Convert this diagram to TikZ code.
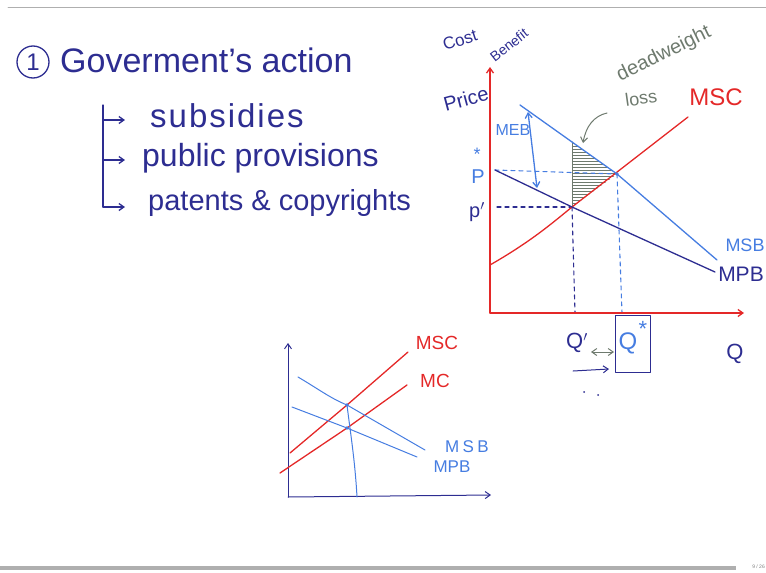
\documentclass[tikz,border=0pt]{standalone}
\usepackage{fontspec}
\setmainfont{Liberation Sans}
\usetikzlibrary{patterns,arrows.meta}
\definecolor{ink}{RGB}{45,45,145}
\definecolor{redink}{RGB}{228,40,40}
\definecolor{blueink}{RGB}{70,125,225}
\definecolor{grayink}{RGB}{110,122,110}
\definecolor{rule}{RGB}{175,175,175}
\begin{document}
\begin{tikzpicture}[x=1pt,y=-1pt,line cap=round,line join=round,
  hand/.style={line width=1.3pt},
  thin hand/.style={line width=1pt},
  tip/.style={-{Straight Barb[length=5pt,width=7pt]}},
  dtip/.style={{Straight Barb[length=5pt,width=7pt]}-{Straight Barb[length=5pt,width=7pt]}},
  lbl/.style={inner sep=0pt},
  dash line/.style={line width=1.1pt,dash pattern=on 4pt off 4pt}]
\useasboundingbox (0,0) rectangle (766,573);
% frame lines
\draw[rule,line width=0.8pt] (8,7) -- (766,7);
\fill[rule] (0,566) rectangle (736,570);
\node[lbl,anchor=east,text=gray,font=\fontsize{5}{5}\selectfont] (pg) at (765,567) {9 / 26};

% ---------- heading ----------
\node[circle,draw=ink,hand,inner sep=0pt,minimum size=32pt,text=ink,font=\fontsize{24}{24}\selectfont] (one) at (33,62) {1};
\node[lbl,anchor=west,text=ink,font=\fontsize{34}{34}\selectfont] (title) at (60,60) {Goverment's action};

% ---------- branch list ----------
\coordinate (b0) at (103,105);
\coordinate (b1) at (103,120);
\coordinate (b2) at (103,160);
\coordinate (b3) at (103,207);
\node[lbl,anchor=west,text=ink,font=\fontsize{33}{33}\selectfont\addfontfeatures{LetterSpace=6}] (sub) at (150,116) {subsidies};
\node[lbl,anchor=west,text=ink,font=\fontsize{32}{32}\selectfont] (pub) at (142,158) {public provisions};
\node[lbl,anchor=west,text=ink,font=\fontsize{29}{29}\selectfont] (pat) at (148,203) {patents \& copyrights};
\draw[ink,hand] (b0) -- (b3);
\draw[ink,hand,tip] (b1) -- ++(22,0);
\draw[ink,hand,tip] (b2) -- ++(22,0);
\draw[ink,hand,tip] (b3) -- ++(22,0);

% ---------- main graph ----------
\coordinate (O) at (490,313);
\coordinate (Ytop) at (490,67);
\coordinate (Xend) at (744,313);
\coordinate (Pp) at (572,207);   % p' equilibrium
\coordinate (E) at (617,174);    % social optimum
\coordinate (T) at (572,142);    % top of DWL triangle
% deadweight loss triangle
\fill[pattern=horizontal lines,pattern color=grayink] (Pp) -- (T) -- (E) -- cycle;
\draw[grayink,thin hand] (Pp) -- (T);
% dashed guides
\draw[blueink,dash line] (495,170) -- (E);
\draw[blueink,dash line] (E) -- (622,313);
\draw[ink,dash line] (497,207) -- (Pp);
\draw[ink,dash line] (Pp) -- (575,313);
% axes
\draw[redink,hand,tip] (O) -- (Ytop);
\draw[redink,hand,tip] (O) -- (Xend);
% curves
\draw[redink,hand] (490,265) .. controls (530,242) and (550,225) .. (Pp) -- (688,117);
\draw[blueink,hand] (520,105) -- (E) -- (717,260);
\draw[ink,hand] (495,170) -- (Pp) -- (715,272);
\fill[blueink] (E) circle (1.8);
% MEB arrow
\draw[blueink,hand,dtip] (528,112) -- (537,188);
% axis labels
\node[lbl,text=ink,rotate=18,font=\fontsize{17}{17}\selectfont] (cost) at (460,40) {Cost};
\node[lbl,text=ink,rotate=38,font=\fontsize{14}{14}\selectfont] (benefit) at (509,45) {Benefit};
\node[lbl,text=ink,rotate=15,font=\fontsize{20}{20}\selectfont] (price) at (466,99) {Price};
\node[lbl,text=blueink,font=\fontsize{16}{16}\selectfont] (meb) at (513,130) {MEB};
\node[lbl,text=blueink,font=\fontsize{20}{20}\selectfont] (pstar) at (478,177) {P};
\node[lbl,text=blueink,font=\fontsize{18}{18}\selectfont] (star) at (477,154) {*};
\node[lbl,text=ink,font=\fontsize{20}{20}\selectfont] (pprime) at (477,212) {p$'$};
\node[lbl,text=redink,font=\fontsize{24}{24}\selectfont] (msc) at (716,97) {MSC};
\node[lbl,text=blueink,font=\fontsize{18}{18}\selectfont] (msb) at (745,245) {MSB};
\node[lbl,text=ink,font=\fontsize{21}{21}\selectfont] (mpb) at (741,274) {MPB};
\node[lbl,text=ink,font=\fontsize{22}{22}\selectfont] (q) at (735,354) {Q};
% deadweight loss label
\node[lbl,text=grayink,rotate=26,font=\fontsize{20}{20}\selectfont] (dw) at (664,54) {deadweight};
\node[lbl,text=grayink,rotate=8,font=\fontsize{18}{18}\selectfont] (loss) at (641,98) {loss};
\draw[grayink,thin hand,tip] (607,113) .. controls (594,116) and (586,126) .. (583,143);
% Q labels
\node[lbl,text=ink,font=\fontsize{22}{22}\selectfont] (qp) at (577,343) {Q$'$};
\node[draw=ink,thin hand,minimum width=35pt,minimum height=57pt,inner sep=0pt] (qbox) at (633,344) {};
\node[lbl,text=blueink,font=\fontsize{24}{24}\selectfont] (qs) at (628,343) {Q};
\node[lbl,text=blueink,font=\fontsize{22}{22}\selectfont] (qstar) at (643,329) {*};
\draw[grayink,thin hand,dtip] (591,352) -- (614,352);
\draw[ink,thin hand,tip] (573,371) -- (609,369);
\fill[ink] (584,392) circle (1);
\fill[ink] (598,395) circle (1);

% ---------- small graph ----------
\coordinate (o2) at (288,497);
\coordinate (y2) at (288,343);
\coordinate (x2) at (491,495);
\coordinate (A) at (347,405);
\coordinate (B) at (347,428);
\draw[ink,thin hand,tip] (o2) -- (y2);
\draw[ink,thin hand,tip] (o2) -- (x2);
\draw[redink,hand] (290,453) -- (A) -- (408,352);
\draw[redink,hand] (280,473) -- (B) -- (407,385);
\draw[blueink,thin hand] (298,377) .. controls (320,390) and (330,398) .. (A) -- (425,450);
\draw[blueink,thin hand] (292,407) -- (B) -- (417,457);
\draw[blueink,thin hand] (A) .. controls (350,430) and (355,460) .. (357,497);
\fill[blueink] (A) circle (1.8);
\fill[blueink] (B) circle (1.8);
\node[lbl,text=redink,font=\fontsize{19}{19}\selectfont] (msc2) at (437,343) {MSC};
\node[lbl,text=redink,font=\fontsize{19}{19}\selectfont] (mc2) at (435,381) {MC};
\node[lbl,text=blueink,font=\fontsize{17}{17}\selectfont\addfontfeatures{LetterSpace=20}] (msb2) at (467,447) {MSB};
\node[lbl,text=blueink,font=\fontsize{17}{17}\selectfont] (mpb2) at (452,467) {MPB};
\end{tikzpicture}
\end{document}
